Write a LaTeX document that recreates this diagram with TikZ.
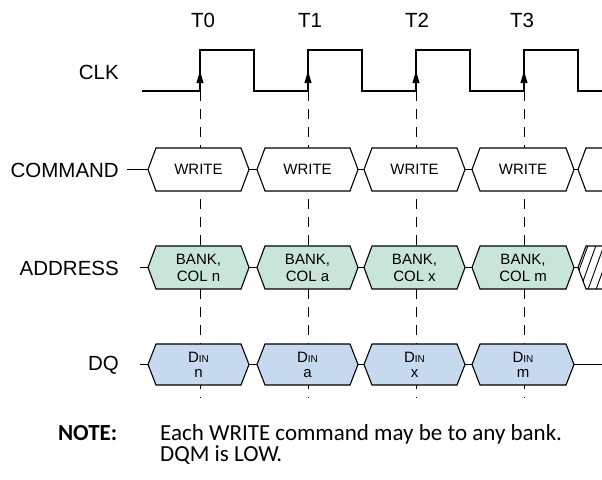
\documentclass[tikz,border=0pt]{standalone}
\usepackage{fontspec}
\setmainfont{Liberation Sans}
\newfontfamily\notefont{Carlito}
\usetikzlibrary{arrows.meta}
\definecolor{addrfill}{HTML}{C9E5D8}
\definecolor{dqfill}{HTML}{C6D9EF}
\tikzset{
  sig/.style={line width=1.3pt, line join=miter},
  bus/.style={line width=1.1pt, line join=miter},
  guide/.style={line width=0.9pt, dash pattern=on 10pt off 8pt},
  lbl/.style={font=\fontsize{20.5}{23}\selectfont, anchor=east, inner sep=0pt},
  tlbl/.style={font=\fontsize{20.5}{23}\selectfont, inner sep=0pt},
  boxtxt/.style={font=\fontsize{15}{17.5}\selectfont, align=center, inner sep=0pt},
  notestyle/.style={inner sep=0pt, align=left, font=\notefont\fontsize{23}{21}\selectfont},
}
\newcommand\hexbox[5]{% left right top bottom fill
  \filldraw[bus, fill=#5] (#1,{(#3+#4)/2}) -- (#1+8,#3) -- (#2-8,#3) -- (#2,{(#3+#4)/2}) -- (#2-8,#4) -- (#1+8,#4) -- cycle;}
\begin{document}
\begin{tikzpicture}[x=1pt,y=-1pt]
\useasboundingbox (0,0) rectangle (602,479);
\fill[white] (0,0) rectangle (602,479);
% guide lines
\foreach \x in {200,308,416,524} {
  \draw[guide] (\x,91) -- (\x,398);
}
% clock
\draw[sig] (142,91) -- (200,91) -- (200,50) -- (254,50) -- (254,91) -- (308,91) -- (308,50) -- (362,50) -- (362,91)
  -- (416,91) -- (416,50) -- (470,50) -- (470,91) -- (524,91) -- (524,50) -- (578,50) -- (578,91) -- (602,91);
\foreach \x in {200,308,416,524} {
  \fill (\x,71) -- (\x-3.6,83) -- (\x+3.6,83) -- cycle;
}
\node[tlbl] (t0) at (203,20) {T0};
\node[tlbl] (t1) at (310,20) {T1};
\node[tlbl] (t2) at (417,20) {T2};
\node[tlbl] (t3) at (522,20) {T3};
\node[lbl] (clk) at (119,72) {CLK};
% COMMAND
\node[lbl] (cmd) at (119,170) {COMMAND};
\draw[bus] (127,169.5) -- (148,169.5);
\draw[bus] (249,169.5) -- (257,169.5) (358,169.5) -- (364,169.5) (465,169.5) -- (472,169.5) (574,169.5) -- (578,169.5);
\hexbox{148}{249}{148}{191}{white}
\hexbox{257}{358}{148}{191}{white}
\hexbox{364}{465}{148}{191}{white}
\hexbox{472}{574}{148}{191}{white}
\filldraw[bus, fill=white] (610,148) -- (586,148) -- (578,169.5) -- (586,191) -- (610,191);
\node[boxtxt] (c0) at (198.5,169.5) {WRITE};
\node[boxtxt] (c1) at (307.5,169.5) {WRITE};
\node[boxtxt] (c2) at (414.5,169.5) {WRITE};
\node[boxtxt] (c3) at (523,169.5) {WRITE};
% ADDRESS
\node[lbl] (addr) at (119,268) {ADDRESS};
\draw[bus] (140,267.5) -- (148,267.5);
\draw[bus] (249,267.5) -- (257,267.5) (358,267.5) -- (364,267.5) (465,267.5) -- (472,267.5) (574,267.5) -- (578,267.5);
\hexbox{148}{249}{246}{289}{addrfill}
\hexbox{257}{358}{246}{289}{addrfill}
\hexbox{364}{465}{246}{289}{addrfill}
\hexbox{472}{574}{246}{289}{addrfill}
\begin{scope}
  \clip (610,246) -- (586,246) -- (578,267.5) -- (586,289) -- (610,289) -- cycle;
  \foreach \k in {0,...,5} {
    \draw[line width=0.9pt] (570+\k*8,295) -- (590+\k*8,240);
  }
\end{scope}
\draw[bus] (610,246) -- (586,246) -- (578,267.5) -- (586,289) -- (610,289);
\node[boxtxt] (a0) at (198.5,268) {BANK,\\COL n};
\node[boxtxt] (a1) at (307.5,268) {BANK,\\COL a};
\node[boxtxt] (a2) at (414.5,268) {BANK,\\COL x};
\node[boxtxt] (a3) at (523,268) {BANK,\\COL m};
% DQ
\node[lbl] (dq) at (119,365) {DQ};
\draw[bus] (140,364.5) -- (148,364.5);
\draw[bus] (249,364.5) -- (257,364.5) (358,364.5) -- (364,364.5) (465,364.5) -- (472,364.5) (574,364.5) -- (602,364.5);
\hexbox{148}{249}{344}{385}{dqfill}
\hexbox{257}{358}{344}{385}{dqfill}
\hexbox{364}{465}{344}{385}{dqfill}
\hexbox{472}{574}{344}{385}{dqfill}
\node[boxtxt] (d0) at (198.5,365) {D{\fontsize{10}{11}\selectfont IN}\\[-2pt]n};
\node[boxtxt] (d1) at (307.5,365) {D{\fontsize{10}{11}\selectfont IN}\\[-2pt]a};
\node[boxtxt] (d2) at (414.5,365) {D{\fontsize{10}{11}\selectfont IN}\\[-2pt]x};
\node[boxtxt] (d3) at (523,365) {D{\fontsize{10}{11}\selectfont IN}\\[-2pt]m};
% note
\node[notestyle, anchor=north west] (note) at (160,424)
  {\llap{\textbf{NOTE:}\hspace{43pt}}Each WRITE command may be to any bank.\\DQM is LOW.};
\end{tikzpicture}
\end{document}
